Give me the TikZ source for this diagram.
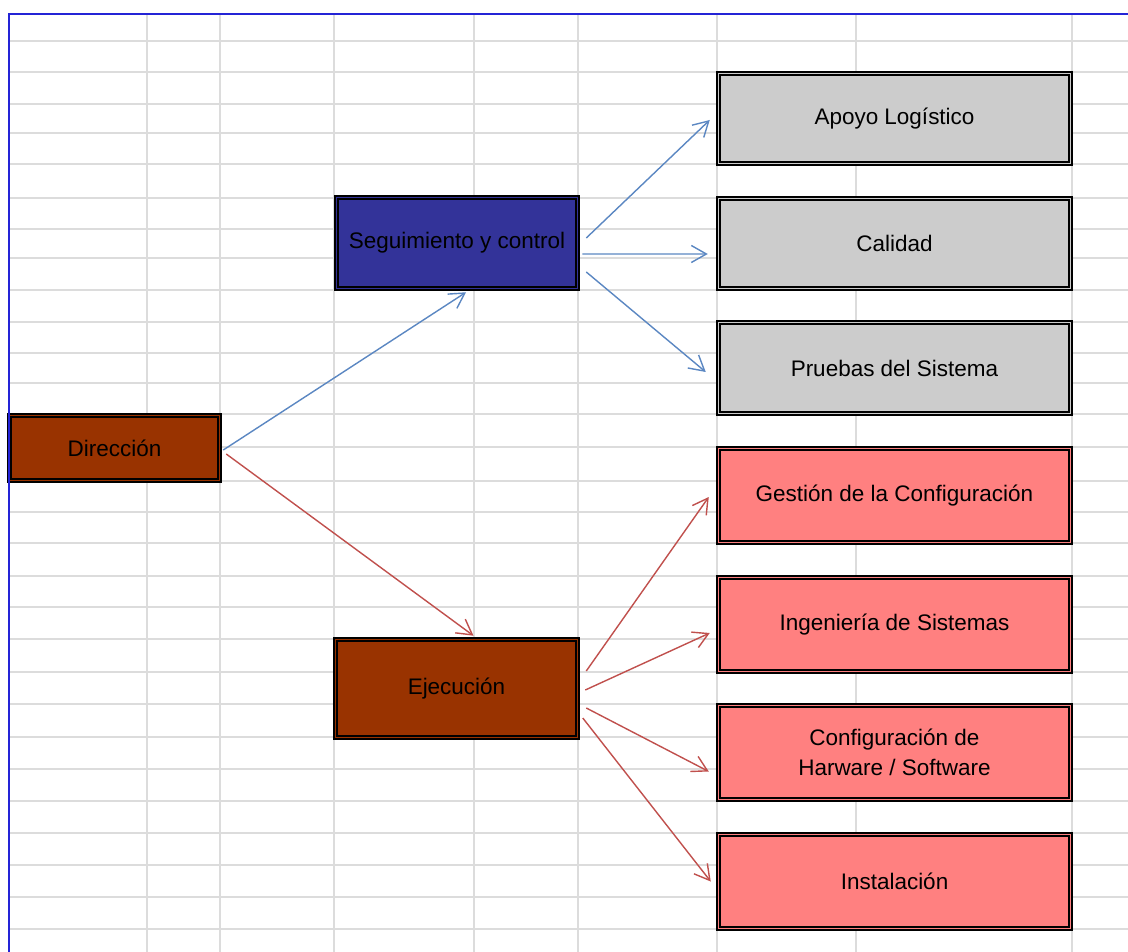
\documentclass[tikz,border=0pt]{standalone}
\usepackage{fontspec}
\setmainfont{Liberation Sans}
\usepackage{tikz}
\usetikzlibrary{arrows.meta}
\definecolor{gridgray}{HTML}{DCDCDC}
\definecolor{sheetblue}{HTML}{2424D6}
\definecolor{dirbrown}{HTML}{993300}
\definecolor{segblue}{HTML}{333399}
\definecolor{boxgray}{HTML}{CCCCCC}
\definecolor{boxpink}{HTML}{FF8080}
\definecolor{arrblue}{HTML}{5B87C2}
\definecolor{arrred}{HTML}{C0504D}
\tikzset{
	cellbox/.style={draw=black, line width=0.9pt, double distance=1.0pt, inner sep=0pt, align=center, font=\fontsize{12.8}{17}\selectfont},
	brownbox/.style={cellbox, fill=dirbrown, double=dirbrown, minimum width=4.2cm},
	segbox/.style={cellbox, fill=segblue, double=segblue, minimum width=4.82cm, minimum height=1.82cm},
	graybox/.style={cellbox, fill=boxgray, double=boxgray, minimum width=7.04cm},
	pinkbox/.style={cellbox, fill=boxpink, double=boxpink, minimum width=7.04cm, minimum height=1.88cm},
	bluearrow/.style={draw=arrblue, line width=0.8pt, -{Straight Barb[length=3mm,width=3.4mm]}},
	redarrow/.style={draw=arrred, line width=0.8pt, -{Straight Barb[length=3mm,width=3.4mm]}},
}

\begin{document}
\begin{tikzpicture}[x=0.02cm, y=-0.02cm]
			%%%%% START %%%%%
			\useasboundingbox (0, 0) rectangle (1128, 952);
			
			% sheet grid
			\foreach \gy in {41,72,104,133,164,198,229,258,290,322,353,383,414,447,481,512,543,576,607,639,672,704,737,769,801,833,865,897,929}
				\draw[gridgray, line width=0.8pt] (9, \gy) -- (1128, \gy);
			\foreach \gx in {147,220,334,474,578,717,856,1072}
				\draw[gridgray, line width=0.8pt] (\gx, 14) -- (\gx, 952);
			
			% boxes
			\node[brownbox, minimum height=1.3cm] (dir) at (114.5, 448) {Dirección};
			\node[segbox] (seg) at (457, 243) {Seguimiento y control};
			\node[brownbox, minimum width=4.84cm, minimum height=1.96cm] (eje) at (456.5, 688.5) {Ejecución};
			
			\node[graybox, minimum height=1.8cm] (apoyo) at (894.5, 118.5) {Apoyo Logístico};
			\node[graybox, minimum height=1.8cm] (cal) at (894.5, 243.5) {Calidad};
			\node[graybox, minimum height=1.82cm] (pru) at (894.5, 368) {Pruebas del Sistema};
			
			\node[pinkbox] (ges) at (894.5, 495.5) {Gestión de la Configuración};
			\node[pinkbox] (ing) at (894.5, 624.5) {Ingeniería de Sistemas};
			\node[pinkbox] (conf) at (894.5, 752.5) {Configuración de\\Harware / Software};
			\node[pinkbox] (ins) at (894.5, 881.5) {Instalación};
			
			% sheet border
			\draw[sheetblue, line width=1.2pt] (9, 952) -- (9, 14) -- (1128, 14);
			
			% arrows
			\draw[bluearrow] ([shift={(3,2)}]dir.east) -- ([shift={(9,3)}]seg.south);
			\draw[bluearrow] ([shift={(8,-5)}]seg.east) -- ([shift={(-8,1.5)}]apoyo.west);
			\draw[bluearrow] ([shift={(4,11)}]seg.east) -- ([shift={(-10,10.5)}]cal.west);
			\draw[bluearrow] ([shift={(8,29)}]seg.east) -- ([shift={(-12,4)}]pru.west);
			
			\draw[redarrow] ([shift={(6,6)}]dir.east) -- ([shift={(17,-3)}]eje.north);
			\draw[redarrow] ([shift={(8,-17.5)}]eje.east) -- ([shift={(-9,1.5)}]ges.west);
			\draw[redarrow] ([shift={(7,1.5)}]eje.east) -- ([shift={(-8,8.5)}]ing.west);
			\draw[redarrow] ([shift={(8,19.5)}]eje.east) -- ([shift={(-9,19)}]conf.west);
			\draw[redarrow] ([shift={(4.5,29.5)}]eje.east) -- ([shift={(-7,0)}]ins.west);
			
			%%%%% END %%%%%
\end{tikzpicture}
\end{document}
